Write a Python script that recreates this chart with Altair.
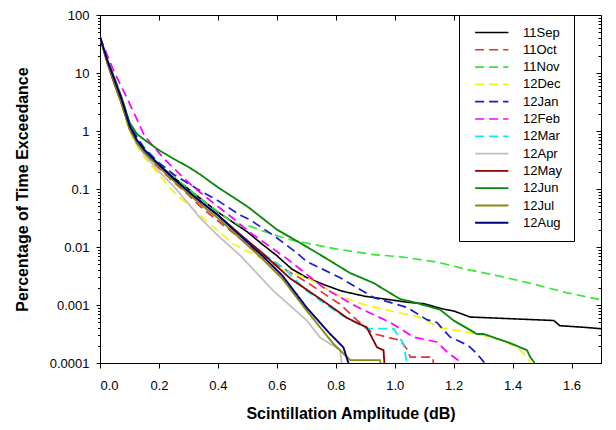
import altair as alt
import pandas as pd

months = ["11Sep", "11Oct", "11Nov", "12Dec", "12Jan", "12Feb",
          "12Mar", "12Apr", "12May", "12Jun", "12Jul", "12Aug"]
colors = ["#000000", "#ee2b2b", "#33e833", "#f5f500", "#1c1ccf", "#ff00ff",
          "#00f0f0", "#c0c0c0", "#8b0000", "#0b880b", "#8a8a10", "#00007a"]
dashed = [False, True, True, True, True, True, True, False, False, False, False, False]

sep_x = [0, 0.025, 0.05, 0.075, 0.1, 0.125, 0.15, 0.2, 0.25, 0.3, 0.35, 0.4, 0.45, 0.5, 0.55, 0.6,
         0.65, 0.7, 0.76, 0.82, 0.9, 1.0, 1.04, 1.1, 1.165, 1.2, 1.256, 1.36, 1.54, 1.56, 1.65, 1.7]
sep_y = [41.7, 15.8, 7.1, 3.16, 1.2, 0.69, 0.47, 0.263, 0.158, 0.1, 0.063, 0.040, 0.0269, 0.0182,
         0.0112, 0.0071, 0.0042, 0.0030, 0.00224, 0.00174, 0.00141, 0.0012, 0.00112, 0.00105,
         0.00085, 0.00079, 0.00062, 0.00059, 0.00054, 0.00044, 0.00041, 0.00039]

oct_x = [0, 0.025, 0.05, 0.075, 0.1, 0.125, 0.15, 0.2, 0.25, 0.3, 0.34, 0.4, 0.45, 0.509, 0.6, 0.7,
         0.815, 0.87, 0.928, 1.019, 1.04, 1.053, 1.13, 1.131]
oct_y = [41.7, 15.1, 6.6, 2.82, 1.07, 0.62, 0.417, 0.229, 0.132, 0.079, 0.050, 0.0282, 0.0178,
         0.010, 0.0050, 0.0025, 0.00103, 0.00056, 0.00032, 0.000245, 0.000178, 0.000126,
         0.000126, 0.0001]

nov_x = [0, 0.025, 0.05, 0.075, 0.1, 0.125, 0.15, 0.2, 0.25, 0.3, 0.35, 0.43, 0.475, 0.509, 0.55,
         0.634, 0.7, 0.8, 0.928, 1.019, 1.143, 1.245, 1.35, 1.471, 1.585, 1.7]
nov_y = [41.7, 17.8, 7.9, 3.55, 1.41, 0.8, 0.525, 0.282, 0.166, 0.1, 0.063, 0.0316, 0.0234,
         0.0229, 0.0191, 0.0138, 0.0117, 0.0093, 0.0074, 0.0068, 0.0055, 0.0041, 0.0032, 0.0023,
         0.00162, 0.00123]

dec_x = [0, 0.025, 0.05, 0.075, 0.1, 0.125, 0.15, 0.2, 0.24, 0.283, 0.35, 0.453, 0.55, 0.62, 0.702,
         0.815, 0.9, 0.985, 1.08, 1.154, 1.23, 1.302, 1.36, 1.415, 1.44, 1.46]
dec_y = [41.7, 15.1, 6.3, 2.63, 1.0, 0.56, 0.355, 0.178, 0.1, 0.063, 0.0316, 0.0112, 0.0063,
         0.0040, 0.00295, 0.00141, 0.001, 0.00079, 0.00063, 0.00041, 0.00035, 0.00030, 0.00025,
         0.000186, 0.000141, 0.0001]

jan_x = [0, 0.025, 0.05, 0.075, 0.1, 0.125, 0.15, 0.2, 0.25, 0.33, 0.4, 0.475, 0.509, 0.589,
         0.668, 0.702, 0.815, 0.928, 1.041, 1.109, 1.143, 1.188, 1.25, 1.279, 1.305]
jan_y = [41.7, 16.6, 7.6, 3.55, 1.32, 0.78, 0.5, 0.282, 0.178, 0.1, 0.063, 0.0355, 0.0295,
         0.0158, 0.0079, 0.0056, 0.00295, 0.00135, 0.00091, 0.00056, 0.0005, 0.00028, 0.0002,
         0.000145, 0.0001]

feb_x = [0, 0.025, 0.05, 0.075, 0.1, 0.125, 0.15, 0.17, 0.2, 0.226, 0.3, 0.34, 0.4, 0.45, 0.509,
         0.634, 0.758, 0.872, 0.985, 1.064, 1.143, 1.177, 1.228]
feb_y = [41.7, 20.0, 10.0, 5.5, 3.0, 1.6, 0.85, 0.63, 0.42, 0.30, 0.13, 0.087, 0.050, 0.0316,
         0.0178, 0.0063, 0.0020, 0.00093, 0.0005, 0.00028, 0.00023, 0.000155, 0.0001]

mar_x = [0, 0.025, 0.05, 0.075, 0.1, 0.125, 0.15, 0.2, 0.25, 0.3, 0.35, 0.4, 0.475, 0.55, 0.62,
         0.702, 0.815, 0.905, 0.996, 1.03, 1.041]
mar_y = [41.7, 15.8, 7.1, 3.16, 1.2, 0.68, 0.447, 0.251, 0.148, 0.089, 0.056, 0.0355, 0.0158,
         0.0079, 0.00447, 0.00174, 0.00069, 0.00039, 0.00039, 0.000214, 0.0001]

apr_x = [0, 0.025, 0.05, 0.075, 0.1, 0.125, 0.15, 0.2, 0.25, 0.3, 0.34, 0.4, 0.475, 0.589, 0.702,
         0.747, 0.815, 0.82]
apr_y = [41.7, 15.1, 6.6, 2.82, 1.05, 0.6, 0.398, 0.2, 0.112, 0.056, 0.0316, 0.0158, 0.0072,
         0.00174, 0.00054, 0.000275, 0.000166, 0.0001]

may_x = [0, 0.025, 0.05, 0.075, 0.1, 0.125, 0.15, 0.2, 0.25, 0.3, 0.35, 0.4, 0.475, 0.55, 0.645,
         0.758, 0.838, 0.905, 0.94, 0.962, 0.965]
may_y = [41.7, 14.8, 6.3, 2.82, 1.12, 0.64, 0.437, 0.251, 0.148, 0.089, 0.056, 0.0355, 0.0166,
         0.0079, 0.00288, 0.00117, 0.0006, 0.00041, 0.000186, 0.000166, 0.0001]

jun_x = [0, 0.025, 0.05, 0.075, 0.1, 0.125, 0.15, 0.2, 0.25, 0.3, 0.34, 0.4, 0.5, 0.6, 0.68,
         0.758, 0.849, 0.928, 1.019, 1.064, 1.154, 1.2, 1.279, 1.302, 1.392, 1.449, 1.46, 1.475]
jun_y = [41.7, 16.6, 7.9, 3.55, 1.41, 0.89, 0.71, 0.468, 0.331, 0.24, 0.178, 0.107, 0.050, 0.020,
         0.0117, 0.0068, 0.00355, 0.0024, 0.00126, 0.00112, 0.00083, 0.00054, 0.000316, 0.000316,
         0.00022, 0.000166, 0.000126, 0.0001]

jul_x = [0, 0.025, 0.05, 0.075, 0.1, 0.125, 0.15, 0.2, 0.25, 0.3, 0.35, 0.4, 0.475, 0.55, 0.62,
         0.702, 0.792, 0.849, 0.86, 0.95, 0.952]
jul_y = [41.7, 15.1, 6.6, 2.88, 1.1, 0.63, 0.427, 0.24, 0.138, 0.083, 0.050, 0.0316, 0.0141,
         0.0063, 0.0028, 0.00079, 0.000214, 0.000112, 0.000112, 0.000112, 0.0001]

aug_x = [0, 0.025, 0.05, 0.075, 0.1, 0.125, 0.15, 0.2, 0.25, 0.3, 0.35, 0.4, 0.475, 0.55, 0.62,
         0.702, 0.781, 0.826, 0.843]
aug_y = [41.7, 16.6, 7.4, 3.31, 1.26, 0.7, 0.479, 0.263, 0.151, 0.091, 0.056, 0.0355, 0.0158,
         0.0071, 0.00316, 0.00089, 0.000316, 0.000186, 0.0001]

series_x = [sep_x, oct_x, nov_x, dec_x, jan_x, feb_x, mar_x, apr_x, may_x, jun_x, jul_x, aug_x]
series_y = [sep_y, oct_y, nov_y, dec_y, jan_y, feb_y, mar_y, apr_y, may_y, jun_y, jul_y, aug_y]

x_ticks = [0.0, 0.2, 0.4, 0.6, 0.8, 1.0, 1.2, 1.4, 1.6]
y_major = [0.0001, 0.001, 0.01, 0.1, 1, 10, 100]
y_minor = [m * d for d in [0.0001, 0.001, 0.01, 0.1, 1, 10] for m in range(2, 10)]

rows = []
for i, (m, xs, ys) in enumerate(zip(months, series_x, series_y)):
    for j, (xv, yv) in enumerate(zip(xs, ys)):
        rows.append({"month": m, "amp": xv, "pct": yv, "k": j})
df = pd.DataFrame(rows)

FONT = "Liberation Sans"
xscale = alt.Scale(domain=[0, 1.7], nice=False, zero=False)
yscale = alt.Scale(type="log", domain=[0.0001, 100], nice=False)

dash_range = [[9, 5] if d else [1, 0] for d in dashed]
width_range = [1.9 if d else 1.6 for d in dashed]

lines = alt.Chart(df).mark_line(clip=True).encode(
    x=alt.X("amp:Q", scale=xscale,
            axis=alt.Axis(orient="bottom", values=x_ticks, format=".1f", tickSize=5,
                          labelPadding=11, title="Scintillation Amplitude (dB)",
                          titlePadding=13, grid=False)),
    y=alt.Y("pct:Q", scale=yscale,
            axis=alt.Axis(orient="left", values=y_major, format="~g", tickSize=4,
                          labelPadding=7, title="Percentage of Time Exceedance",
                          titlePadding=19, grid=False)),
    color=alt.Color("month:N", scale=alt.Scale(domain=months, range=colors),
                    legend=alt.Legend(title=None, orient="none", legendX=359, legendY=0,
                                      symbolType="M-0.25,0H5.8", symbolSize=121,
                                      symbolStrokeWidth=1.8, labelOffset=40,
                                      labelFontSize=13, labelFont=FONT, rowPadding=3.3,
                                      padding=11, strokeColor="#000000",
                                      fillColor="#ffffff", labelColor="#000000")),
    strokeDash=alt.StrokeDash("month:N", scale=alt.Scale(domain=months, range=dash_range)),
    strokeWidth=alt.StrokeWidth("month:N", scale=alt.Scale(domain=months, range=width_range),
                                legend=None),
    order=alt.Order("k:Q"),
)

def dummy(xaxis, yaxis):
    return alt.Chart(df).mark_point(opacity=0, size=1).encode(
        x=alt.X("amp:Q", scale=xscale, axis=xaxis),
        y=alt.Y("pct:Q", scale=yscale, axis=yaxis),
    )

left_minor = dummy(None, alt.Axis(orient="left", values=y_minor, tickSize=2.5, labels=False,
                                  domain=False, title=None, grid=False))
top_right = dummy(alt.Axis(orient="top", values=x_ticks, tickSize=5, offset=-5, labels=False,
                           domain=False, title=None, grid=False),
                  alt.Axis(orient="right", values=y_major, tickSize=5, offset=-5, labels=False,
                           domain=False, title=None, grid=False))
right_minor = dummy(None, alt.Axis(orient="right", values=y_minor, tickSize=3, offset=-3,
                                   labels=False, domain=False, title=None, grid=False))

chart = alt.layer(lines, left_minor, top_right, right_minor).resolve_axis(
    x="independent", y="independent"
).properties(
    width=501, height=348,
    autosize=alt.AutoSizeParams(type="none"),
    padding={"left": 92, "top": 7, "right": 7, "bottom": 62},
).configure_view(
    stroke="#000000", strokeWidth=1
).configure_axis(
    labelFont=FONT, labelFontSize=13, labelColor="#000000",
    titleFont=FONT, titleFontSize=16, titleFontWeight="bold", titleColor="#000000",
    tickColor="#000000", domainColor="#000000", tickWidth=1, domainWidth=1
).configure_legend(
    labelFont=FONT
)

chart.save("out.html", embed_options={"renderer": "svg", "actions": False})
